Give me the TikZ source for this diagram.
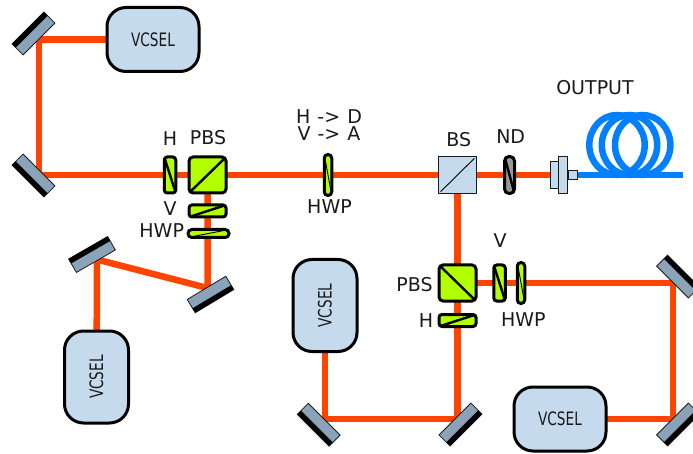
\documentclass[tikz,border=0pt]{standalone}
\usepackage{fontspec}
\setmainfont{DejaVu Sans}
\usepackage{graphicx}
\usetikzlibrary{calc,backgrounds,shapes.geometric}
\definecolor{beamcol}{HTML}{FF4400}
\definecolor{fibercol}{HTML}{0080FF}
\definecolor{platecol}{HTML}{B2FF00}
\definecolor{boxcol}{HTML}{C6DAEE}
\definecolor{mirrorcol}{HTML}{8AA3B8}
\definecolor{ndcol}{HTML}{999999}
\definecolor{inkcol}{HTML}{1A1A1A}
\tikzset{
  beam/.style={draw=beamcol,line width=6.5pt,line join=miter},
  fiber/.style={draw=fibercol,line width=6.5pt},
  coil/.style={ellipse,fiber,inner sep=0pt,outer sep=0pt,minimum width=55.4pt,minimum height=60pt},
  vcsel/.style={draw=black,line width=3pt,fill=boxcol,rounded corners=19pt,inner sep=0pt,outer sep=0pt,minimum width=92pt,minimum height=64pt,text=inkcol},
  plate/.style={draw=black,line width=3pt,fill=platecol,rounded corners=3pt,inner sep=0pt,outer sep=0pt},
  cube/.style={plate,minimum width=37pt,minimum height=36pt,rounded corners=4pt},
  plateV/.style={plate,minimum width=11.5pt,minimum height=36pt},
  plateH/.style={plate,minimum width=37pt,minimum height=12pt},
  hwpV/.style={plate,minimum width=7.5pt,minimum height=41pt,rounded corners=3.7pt},
  hwpH/.style={plate,minimum width=41pt,minimum height=8pt,rounded corners=3.9pt},
  mirrorbody/.style={draw=inkcol,line width=.8pt,fill=mirrorcol,inner sep=0pt,outer sep=0pt,minimum width=45pt,minimum height=15.5pt},
  thin box/.style={draw=inkcol,line width=.9pt,fill=boxcol,inner sep=0pt,outer sep=0pt},
  lab/.style={anchor=base,inner sep=0pt,text=inkcol,font=\fontsize{19}{17}\selectfont},
  diagthick/.style={draw=black,line width=2.4pt},
  diagthin/.style={draw=black,line width=.9pt},
}
\newcommand{\lineNWSE}[2][diagthick]{\draw[#1] ($(#2.north west)!.05!(#2.south east)$) -- ($(#2.south east)!.05!(#2.north west)$);}
\newcommand{\lineSWNE}[2][diagthick]{\draw[#1] ($(#2.south west)!.05!(#2.north east)$) -- ($(#2.north east)!.05!(#2.south west)$);}
\newcommand{\mirrorback}[1]{\fill[black] (#1.north west) -- (#1.north east) -- ($(#1.north east)!.33!(#1.south east)$) -- ($(#1.north west)!.33!(#1.south west)$) -- cycle;}
\newcommand{\vtext}{\fontsize{18.5}{18}\selectfont\scalebox{.74}[1]{VCSEL}}
\begin{document}
\begin{tikzpicture}[x=1pt,y=1pt]
\useasboundingbox (0,0) rectangle (693,-454);
% hit points
\coordinate (h1) at (39,-39.5);
\coordinate (h2) at (39,-175);
\coordinate (h3) at (207.5,-288);
\coordinate (h4) at (97,-259.5);
\coordinate (h5) at (325,-419);
\coordinate (h6) at (457.5,-419);
\coordinate (h7) at (673,-283);
\coordinate (h8) at (673,-419);
\coordinate (fibend) at (683,-175);
% lasers
\node[vcsel] (v1) at (153,-39.5) {\vtext};
\node[vcsel,rotate=90] (v3) at (96.5,-377) {\vtext};
\node[vcsel,rotate=90] (v4) at (325,-305.5) {\vtext};
\node[vcsel] (v5) at (560,-419) {\vtext};
% mirrors
\node[mirrorbody,rotate=45] (m1) at (33.5,-33.5) {};
\node[mirrorbody,rotate=135] (m2) at (33.5,-175.5) {};
\node[mirrorbody,rotate=-149] (m3) at (210.5,-294.5) {};
\node[mirrorbody,rotate=30] (m4) at (92,-254.5) {};
\node[mirrorbody,rotate=135] (m5) at (318.7,-424.7) {};
\node[mirrorbody,rotate=-135] (m6) at (460.5,-424.5) {};
\node[mirrorbody,rotate=-45] (m7) at (678,-276.6) {};
\node[mirrorbody,rotate=-135] (m8) at (678,-424.5) {};
\foreach \m in {m1,m2,m3,m4,m5,m6,m7,m8}{\mirrorback{\m}}
% upper row optics
\node[plateV] (pH1) at (170,-175) {};
\lineNWSE{pH1}
\node[cube] (pbsA) at (207.5,-175) {};
\lineSWNE{pbsA}
\node[plateH] (pV1) at (207.5,-211) {};
\lineSWNE{pV1}
\node[hwpH] (hwpA) at (208.5,-233.5) {};
\lineSWNE[diagthin]{hwpA}
\node[hwpV] (hwpB) at (328,-175) {};
\lineNWSE[diagthin]{hwpB}
\node[thin box,minimum width=37.5pt,minimum height=37pt] (bs) at (457.5,-175) {};
\lineSWNE[diagthin]{bs}
\node[plateV,fill=ndcol,minimum width=10pt,minimum height=37pt,rounded corners=4.5pt] (nd) at (509.5,-175) {};
\lineNWSE{nd}
% lower row optics
\node[cube] (pbsB) at (457.5,-283) {};
\lineNWSE{pbsB}
\node[plateH] (pH2) at (457.5,-320.5) {};
\lineSWNE{pH2}
\node[plateV] (pV2) at (499.5,-283) {};
\lineNWSE{pV2}
\node[hwpV] (hwpC) at (521,-283) {};
\lineNWSE[diagthin]{hwpC}
% fibre coupler and coils
\node[coil] (c1) at (617,-145) {};
\node[coil] (c2) at (629.5,-145) {};
\node[coil] (c3) at (642.7,-145) {};
\node[thin box,minimum width=8.5pt,minimum height=27pt] (coupA) at (554.2,-175) {};
\node[thin box,minimum width=9.5pt,minimum height=37pt] (coupB) at (563,-175) {};
\node[thin box,minimum width=9pt,minimum height=9pt] (coupC) at (572.5,-175) {};
% connectors, under the optics
\begin{scope}[on background layer]
\draw[beam] (v1.center) -- (h1) -- (h2) -- (pH1.center) -- (pbsA.center) -- (hwpB.center) -- (bs.center) -- (nd.center) -- (coupA.center);
\draw[beam] (pbsA.center) -- (pV1.center) -- (h3) -- (h4) -- (v3.center);
\draw[beam] (bs.center) -- (pbsB.center) -- (pH2.center) -- (h6) -- (h5) -- (v4.center);
\draw[beam] (pbsB.center) -- (pV2.center) -- (hwpC.center) -- (h7) -- (h8) -- (v5.center);
\draw[fiber] (coupC.center) -- (fibend);
\end{scope}
% labels
\node[lab] (lH1) at (170,-146) {H};
\node[lab] (lPBS1) at (208,-144.5) {PBS};
\node[lab] (lV1) at (170,-216) {V};
\node[lab] (lHWP1) at (161.7,-238) {HWP};
\node[lab,anchor=center,align=center] (lHD) at (329,-125) {H\hspace{1pt} -> \hspace{1pt}D\\V\hspace{1pt} -> \hspace{1pt}A};
\node[lab] (lHWP2) at (329.5,-213.3) {HWP};
\node[lab] (lBS) at (458.7,-146.7) {BS};
\node[lab] (lND) at (510.7,-143.3) {ND};
\node[lab] (lOUT) at (595,-95) {OUTPUT};
\node[lab] (lPBS2) at (414.5,-291) {PBS};
\node[lab] (lH2) at (426,-327.7) {H};
\node[lab] (lV2) at (500,-248) {V};
\node[lab] (lHWP3) at (523.3,-326.7) {HWP};
\end{tikzpicture}
\end{document}
